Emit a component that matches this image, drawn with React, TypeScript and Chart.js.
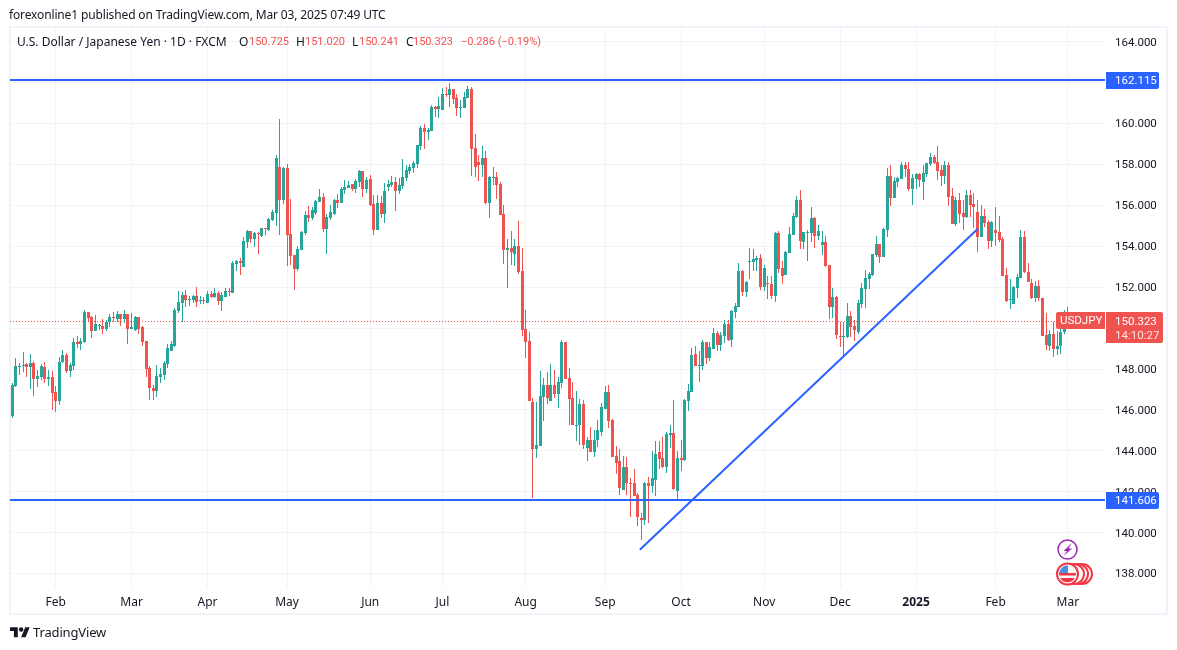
import React, { useEffect, useRef } from "react";
import { Chart, registerables } from "chart.js";

Chart.register(...registerables);

const opens = [
  145.7,147.15,148.12,148.15,148.25,148.08,148.3,147.5,147.62,148.1,
  147.5,147.62,146.9,146.42,148.35,148.7,147.92,148.15,149.33,149.2,
  149.33,150.8,150.55,149.87,150.08,150.12,149.97,150.28,150.55,150.45,
  150.7,150.45,150.7,149.97,149.92,150.55,150.07,149.38,148.07,147.05,
  146.95,147.63,147.72,148.25,148.9,149.13,150.85,151.25,151.63,151.4,
  151.38,151.58,151.35,151.38,151.23,151.68,151.53,151.72,151.33,151.53,
  151.82,151.72,153.14,153.28,153.0,154.2,154.75,154.36,154.65,154.5,
  154.9,154.8,155.28,155.63,157.87,156.26,157.82,154.6,153.58,152.9,
  153.82,154.65,155.53,155.38,155.63,156.17,156.4,154.85,155.38,155.58,
  156.26,156.11,156.75,156.85,157.04,156.8,157.14,157.67,156.8,157.29,
  156.07,154.8,156.11,155.58,156.9,157.0,157.14,156.7,156.94,157.33,
  157.67,157.82,158.02,158.9,159.77,159.58,159.63,160.8,160.7,160.65,
  161.43,161.38,161.67,161.23,160.77,160.75,161.23,161.67,158.8,158.11,
  157.97,158.31,156.11,157.35,157.38,157.04,155.58,153.82,153.92,153.63,
  154.02,152.8,149.97,149.38,146.41,144.11,144.26,146.65,147.23,146.46,
  147.23,146.8,147.33,149.33,147.58,146.6,145.24,145.24,146.31,144.16,
  144.55,143.92,144.55,144.94,146.06,146.9,145.53,143.77,143.48,142.11,
  143.19,142.45,142.41,141.82,140.7,140.6,142.45,142.26,142.6,143.92,
  143.63,143.19,144.77,144.85,142.02,143.67,143.53,146.46,146.9,148.75,
  148.16,148.16,149.33,148.55,149.0,149.77,149.19,149.63,150.2,149.43,
  150.8,151.04,152.8,151.77,153.24,153.24,153.33,153.43,152.02,152.2,
  152.16,151.58,154.65,152.95,152.6,153.67,154.55,155.41,156.26,154.21,
  154.67,154.65,155.38,154.5,154.06,154.2,153.09,151.04,151.53,149.63,
  149.6,149.58,150.6,150.11,149.82,151.19,151.92,152.41,152.6,153.58,
  154.11,153.48,154.8,157.43,156.36,157.14,157.28,157.97,157.77,156.8,
  157.28,157.53,157.14,157.53,158.02,158.36,158.11,157.72,157.43,157.97,
  156.46,155.09,156.26,155.63,155.43,156.5,156.07,155.68,154.46,155.48,
  155.17,154.24,154.78,154.68,154.34,152.59,151.37,151.17,151.95,152.44,
  154.44,152.73,152.19,151.46,152.05,151.46,149.66,149.12,149.71,148.98,
  149.12,149.8,150.725,
];
const highs = [
  147.3,148.55,148.3,148.85,148.3,148.75,148.4,147.97,148.25,148.35,
  147.97,147.92,147.15,148.6,148.95,148.8,148.3,149.52,149.62,149.52,
  150.9,150.8,150.6,150.65,150.2,150.45,150.4,150.7,150.8,150.85,
  150.7,150.9,150.7,150.75,150.6,150.55,150.12,149.38,148.17,147.2,
  148.2,148.07,148.4,149.2,149.38,151.0,151.82,151.78,151.87,151.58,
  151.63,152.02,151.58,151.53,151.82,151.82,151.97,151.82,151.77,151.97,
  151.97,153.28,153.33,153.43,154.46,154.8,154.75,154.7,154.7,154.9,
  154.9,155.38,155.78,158.45,160.2,157.87,158.02,156.3,153.58,154.02,
  154.75,155.72,155.97,155.92,156.27,156.8,156.6,155.58,156.02,156.31,
  156.55,156.9,157.24,157.19,157.04,157.29,157.72,157.67,157.38,157.48,
  156.5,156.5,156.46,157.09,157.24,157.43,157.38,157.33,158.26,157.97,
  158.02,158.16,158.94,159.87,159.97,159.77,160.9,160.85,161.28,161.72,
  161.77,161.97,161.67,161.43,161.14,161.52,161.82,161.77,159.48,158.45,
  158.9,158.65,157.43,157.87,157.63,157.14,156.02,154.36,154.75,154.36,
  155.24,153.92,150.89,149.82,146.6,146.41,147.92,147.58,147.87,148.26,
  147.97,147.63,149.43,149.33,148.07,147.38,146.94,146.55,146.5,144.7,
  145.19,145.04,145.53,146.36,147.19,147.24,145.58,144.26,144.07,143.77,
  143.72,142.65,143.09,141.92,140.94,142.5,142.7,143.97,144.5,144.5,
  144.7,144.9,145.24,146.5,143.97,144.55,146.55,147.28,149.04,149.14,
  148.9,149.43,149.33,149.33,150.0,149.87,149.82,150.4,150.4,150.9,
  151.24,153.19,152.85,152.3,153.92,153.87,153.53,153.63,153.1,152.55,
  152.55,154.7,154.75,153.3,153.77,154.94,155.63,156.46,156.75,154.7,
  154.8,155.92,155.43,155.04,154.75,154.5,153.09,151.97,151.58,150.28,
  150.28,151.24,150.85,150.4,151.38,152.21,152.85,152.75,153.63,154.5,
  154.11,154.9,157.82,157.97,157.38,157.38,158.11,158.11,158.11,157.53,
  157.58,157.58,157.97,158.07,158.55,158.45,158.89,157.97,158.16,158.11,
  156.85,156.41,156.6,156.26,156.75,156.75,156.6,156.26,156.02,155.82,
  155.29,155.22,155.9,155.5,154.44,152.93,152.39,152.05,152.63,154.78,
  154.73,153.17,152.39,152.29,152.34,151.46,150.73,149.9,150.29,149.85,
  150.39,150.9,151.02,
];
const lows = [
  145.6,147.1,147.7,147.85,147.62,147.0,146.7,147.1,147.45,147.3,
  147.15,146.0,145.92,146.25,148.3,147.82,147.62,147.97,149.05,148.95,
  149.28,150.3,149.52,149.87,149.92,149.72,149.87,150.07,150.3,150.3,
  150.12,150.25,149.23,149.97,149.87,149.72,149.13,147.63,146.5,146.5,
  146.65,147.3,147.48,148.07,148.9,149.08,150.75,150.3,151.05,151.08,
  151.23,151.05,151.2,151.2,151.23,151.48,151.48,151.13,150.85,151.53,
  151.58,151.72,152.8,152.6,153.0,153.92,154.16,153.97,153.63,154.45,
  154.55,154.75,155.23,155.0,154.55,156.07,153.04,153.1,151.87,152.8,
  153.82,154.55,155.18,155.28,155.53,156.17,154.7,153.63,155.28,155.53,
  155.87,156.11,156.55,156.85,156.7,156.6,156.9,156.41,156.6,155.97,
  154.55,154.8,155.38,155.14,156.7,156.9,155.72,156.55,156.8,157.19,
  157.53,157.58,157.82,158.7,158.75,159.19,159.63,160.31,160.26,160.65,
  161.28,160.8,160.94,160.36,160.26,160.75,161.23,157.43,157.38,157.19,
  157.38,156.07,155.38,157.0,156.31,155.53,153.14,151.97,153.09,153.04,
  152.65,149.63,148.55,146.46,141.72,143.67,144.26,145.48,146.31,146.46,
  146.6,146.11,147.09,147.53,145.24,145.24,144.5,144.31,144.07,143.48,
  143.92,143.72,144.2,144.75,146.06,145.14,143.72,142.89,141.82,142.11,
  141.82,140.75,141.77,140.31,139.63,140.36,140.46,141.92,141.77,143.09,
  143.14,142.94,144.16,142.11,141.63,143.0,143.48,145.97,146.9,148.16,
  147.38,147.97,148.26,148.4,149.0,148.9,148.9,149.28,149.38,149.09,
  150.5,151.04,151.58,151.53,152.41,152.8,152.8,151.87,151.82,151.43,
  151.43,151.28,152.7,152.16,152.6,153.67,154.55,155.38,153.87,153.87,
  153.28,154.21,153.92,154.3,153.58,153.0,150.46,150.5,149.48,149.09,
  148.65,149.53,149.58,149.38,149.72,150.99,150.99,151.92,152.55,153.48,
  153.19,153.48,154.46,155.97,156.36,156.89,157.28,157.38,156.7,156.02,
  156.8,156.9,156.26,157.38,157.9,158.0,157.24,156.94,157.04,155.97,
  155.09,154.99,155.14,154.8,155.38,155.43,154.9,153.72,154.46,154.94,
  153.85,153.95,154.0,154.2,152.54,151.27,150.93,151.17,151.46,152.44,
  152.68,152.24,151.41,151.27,151.32,149.61,148.93,148.88,148.59,148.68,
  148.73,149.7,150.241,
];
const closes = [
  147.2,148.15,148.15,148.2,148.08,148.3,147.5,147.68,148.15,147.5,
  147.62,146.85,146.42,148.35,148.7,147.92,148.2,149.33,149.23,149.38,
  150.8,150.5,149.87,150.2,150.13,149.97,150.3,150.55,150.5,150.7,
  150.45,150.7,149.97,150.07,150.55,149.97,149.33,148.02,147.05,146.95,
  147.68,147.77,148.3,149.03,149.2,150.9,151.28,151.63,151.38,151.43,
  151.58,151.28,151.38,151.35,151.68,151.53,151.72,151.33,151.63,151.82,
  151.78,153.18,153.28,153.18,154.26,154.75,154.36,154.65,154.6,154.9,
  154.85,155.33,155.68,158.3,156.26,157.82,154.55,153.53,152.9,153.87,
  154.7,155.53,155.38,155.77,156.22,156.4,154.85,155.43,155.67,156.26,
  156.11,156.8,156.9,157.0,156.8,157.19,157.67,156.8,157.24,156.02,
  154.8,156.11,155.58,156.7,157.04,157.14,156.7,157.0,157.38,157.72,
  157.87,158.07,158.94,159.77,159.58,159.67,160.8,160.7,160.85,161.43,
  161.38,161.67,161.18,160.75,160.8,161.28,161.67,158.75,157.87,157.97,
  158.31,156.11,157.38,157.38,157.0,155.53,153.82,153.92,153.72,154.02,
  152.75,149.92,149.33,146.46,144.11,144.31,146.7,147.23,146.6,147.23,
  146.8,147.38,149.33,147.53,146.55,145.24,145.28,146.31,144.31,144.55,
  143.92,144.55,145.0,146.16,146.9,145.48,143.72,143.43,142.2,143.19,
  142.41,142.36,141.77,140.75,140.6,142.45,142.26,142.65,143.87,143.58,
  143.19,144.8,144.85,142.16,143.67,143.53,146.5,146.94,148.7,148.16,
  148.2,149.33,148.55,149.09,149.77,149.19,149.67,150.2,149.43,150.85,
  151.09,152.8,151.77,152.26,153.28,153.38,153.43,152.02,152.95,152.16,
  151.58,154.65,152.9,152.55,153.72,154.6,155.48,156.26,154.26,154.7,
  154.7,155.38,154.5,154.75,154.2,153.04,151.04,151.53,149.67,149.6,
  149.63,150.6,150.07,149.92,151.24,151.97,152.45,152.65,153.63,154.11,
  153.48,154.85,157.43,156.36,157.19,157.33,157.97,157.77,156.8,157.33,
  157.53,157.24,157.58,158.07,158.36,158.07,157.68,157.43,157.97,156.41,
  155.09,156.26,155.58,155.43,156.5,156.02,155.92,154.46,155.48,155.14,
  154.24,155.17,154.63,154.3,152.54,151.32,151.41,152.0,152.49,154.44,
  152.73,152.24,151.46,152.05,151.46,149.61,149.17,149.71,148.98,149.12,
  149.8,150.7,150.323,
];

const monthLabels = ["Feb", "Mar", "Apr", "May", "Jun", "Jul", "Aug", "Sep", "Oct", "Nov", "Dec", "2025", "Feb", "Mar"];
const monthBars = [12, 33, 54, 76, 99, 119, 142, 164, 185, 208, 229, 250, 272, 292];
const priceTicks = [138, 140, 142, 144, 146, 148, 150, 152, 154, 156, 158, 160, 162, 164];

const resistance = 162.115;
const support = 141.606;
const lastPrice = 150.323;
const trendBars = [173.6, 267.1];
const trendPrices = [139.17, 154.86];

const legendValues = [
  { key: "O", value: "150.725", keyX: 239, valueX: 249 },
  { key: "H", value: "151.020", keyX: 296, valueX: 305 },
  { key: "L", value: "150.241", keyX: 352, valueX: 359 },
  { key: "C", value: "150.323", keyX: 406, valueX: 413 },
];

const GREEN = "#26a69a";
const RED = "#ef5350";
const BLUE = "#2962ff";
const INK = "#131722";
const GRID = "#f0f3fa";
const FONT = "'Noto Sans', sans-serif";
const NUM_FONT = "Roboto, sans-serif";

const xMin = -0.636;
const xMax = 302.27;
const candleColors = closes.map((c, i) => (c >= opens[i] ? GREEN : RED));

// keep wicks, bodies and level lines on whole pixels, like the original
const snapMarks = {
  id: "snapMarks",
  afterDatasetsUpdate(chart: any) {
    chart.data.datasets.forEach((ds: any, d: number) => {
      const marks = chart.getDatasetMeta(d).data;
      if (ds.type === "line") {
        if (ds.data[0].y !== ds.data[1].y) return;
        marks.forEach((el: any) => {
          el.y = ds.borderWidth % 2 ? Math.floor(el.y) + 0.5 : Math.round(el.y);
        });
        return;
      }
      marks.forEach((el: any) => {
        el.x = Math.floor(el.x) + 0.5;
        const top = Math.round(Math.min(el.y, el.base));
        let bottom = Math.round(Math.max(el.y, el.base));
        if (bottom <= top) bottom = top + 1;
        el.y = top;
        el.base = bottom;
        el.height = bottom - top;
      });
    });
  },
};

function tag(ctx: any, x: number, y: number, w: number, h: number, color: string, r: any) {
  ctx.fillStyle = color;
  ctx.beginPath();
  ctx.roundRect(x, y, w, h, r);
  ctx.fill();
}

// frame, price tags and the event icons sit on top of the scales
const overlays = {
  id: "overlays",
  beforeDraw(chart: any) {
    const { ctx } = chart;
    ctx.save();
    ctx.strokeStyle = GRID;
    ctx.lineWidth = 2;
    ctx.strokeRect(10, 27, 1157, 587);
    ctx.restore();
  },
  afterDraw(chart: any) {
    const { ctx } = chart;
    const y = chart.scales.y;
    ctx.save();
    ctx.textBaseline = "middle";
    ctx.textAlign = "left";
    ctx.font = `11.5px ${NUM_FONT}`;

    [resistance, support].forEach((p) => {
      const py = Math.round(y.getPixelForValue(p));
      tag(ctx, 1106, py - 8, 53, 17, BLUE, [0, 2, 2, 0]);
      ctx.fillStyle = "#fff";
      ctx.fillText(p.toFixed(3), 1115, py + 1);
    });

    const py = Math.round(y.getPixelForValue(lastPrice));
    tag(ctx, 1056, py - 9, 49, 17, RED, [2, 0, 0, 2]);
    tag(ctx, 1106, py - 9, 57, 31, RED, [0, 2, 2, 0]);
    ctx.fillStyle = "#fff";
    ctx.fillText("USDJPY", 1060, py);
    ctx.fillText(lastPrice.toFixed(3), 1115, py + 1);
    ctx.fillStyle = "#ffe3e2";
    ctx.fillText("14:10:27", 1115, py + 15);

    // lightning marker
    ctx.strokeStyle = "#9c27b0";
    ctx.fillStyle = "#fff";
    ctx.lineWidth = 1.5;
    ctx.beginPath();
    ctx.arc(1067.5, 549.5, 9.5, 0, Math.PI * 2);
    ctx.fill();
    ctx.stroke();
    ctx.fillStyle = "#9c27b0";
    ctx.beginPath();
    [[1072, 543], [1063.5, 551], [1067, 551], [1063.5, 556], [1072, 548.5], [1068.5, 548.5]].forEach(([a, b], i) => {
      if (i === 0) ctx.moveTo(a, b);
      else ctx.lineTo(a, b);
    });
    ctx.closePath();
    ctx.fill();

    // stacked US calendar markers
    [1082, 1078, 1074].forEach((cx) => {
      ctx.fillStyle = "#fff";
      ctx.strokeStyle = "#f23645";
      ctx.lineWidth = 2;
      ctx.beginPath();
      ctx.arc(cx, 574, 10, 0, Math.PI * 2);
      ctx.fill();
      ctx.stroke();
    });
    ctx.fillStyle = "#fff";
    ctx.beginPath();
    ctx.arc(1067.5, 574, 10.5, 0, Math.PI * 2);
    ctx.fill();
    ctx.stroke();
    ctx.save();
    ctx.beginPath();
    ctx.arc(1067.5, 574, 8.5, 0, Math.PI * 2);
    ctx.clip();
    ctx.fillStyle = "#f7f7f7";
    ctx.fillRect(1058, 565, 19, 18);
    ctx.fillStyle = "#f23645";
    ctx.fillRect(1058, 573, 19, 2.5);
    ctx.fillRect(1058, 578, 19, 5);
    ctx.fillStyle = "#4a90e2";
    ctx.fillRect(1058, 565, 10, 8);
    ctx.restore();
    ctx.restore();
  },
};

const App: React.FC = () => {
  const canvasRef = useRef<HTMLCanvasElement>(null);

  useEffect(() => {
    const ctx = canvasRef.current?.getContext("2d");
    if (!ctx) return;

    const hLine = (p: number) => [{ x: xMin, y: p }, { x: xMax, y: p }];
    const lineBase = { type: "line", pointRadius: 0, fill: false, order: 0 };

    const chart = new Chart(ctx, {
      type: "bar",
      data: {
        datasets: [
          { ...lineBase, data: hLine(resistance), borderColor: BLUE, borderWidth: 2 },
          { ...lineBase, data: hLine(support), borderColor: BLUE, borderWidth: 2 },
          {
            ...lineBase,
            data: trendBars.map((x, i) => ({ x, y: trendPrices[i] })),
            borderColor: BLUE,
            borderWidth: 2,
          },
          {
            ...lineBase,
            data: hLine(lastPrice),
            borderColor: RED,
            borderWidth: 1,
            borderDash: [1, 2],
            order: 3,
          },
          {
            type: "bar",
            data: opens.map((o, i) => ({ x: i, y: [o, closes[i]] })),
            backgroundColor: candleColors,
            barThickness: 3,
            grouped: false,
            inflateAmount: 0,
            order: 1,
          },
          {
            type: "bar",
            data: lows.map((l, i) => ({ x: i, y: [l, highs[i]] })),
            backgroundColor: candleColors,
            barThickness: 1,
            grouped: false,
            inflateAmount: 0,
            order: 2,
          },
        ] as any,
      },
      options: {
        responsive: false,
        animation: false,
        devicePixelRatio: 1,
        layout: { padding: { left: 10, top: 27, right: 10, bottom: 36 } },
        plugins: { legend: { display: false }, tooltip: { enabled: false } },
        scales: {
          x: {
            type: "linear",
            min: xMin,
            max: xMax,
            offset: false,
            border: { display: false },
            grid: { color: GRID, offset: false, drawTicks: false },
            afterBuildTicks: (scale: any) => {
              scale.ticks = monthBars.map((value) => ({ value }));
            },
            afterFit: (scale: any) => {
              scale.height = 26;
            },
            ticks: {
              autoSkip: false,
              maxRotation: 0,
              padding: 7,
              color: INK,
              font: (c: any) => ({
                family: FONT,
                size: 12,
                weight: c.tick?.value === 250 ? "bold" : "normal",
              }),
              callback: (v: any) => monthLabels[monthBars.indexOf(v)],
            },
          },
          y: {
            position: "right",
            min: 137.297,
            max: 164.7165,
            border: { display: false },
            grid: { color: GRID, drawTicks: false },
            afterBuildTicks: (scale: any) => {
              scale.ticks = priceTicks.map((value) => ({ value }));
            },
            afterFit: (scale: any) => {
              scale.width = 62;
            },
            ticks: {
              padding: 10,
              labelOffset: 1,
              color: INK,
              font: { family: NUM_FONT, size: 11.5 },
              callback: (v: any) => Number(v).toFixed(3),
            },
          },
        },
      } as any,
      plugins: [snapMarks, overlays],
    });

    return () => chart.destroy();
  }, []);

  const textAt = (left: number, top: number, color = INK, size = 12): React.CSSProperties => ({
    position: "absolute",
    left,
    top,
    color,
    fontSize: size,
    lineHeight: "16px",
    whiteSpace: "nowrap",
  });

  return (
    <div
      style={{
        position: "fixed",
        left: 0,
        top: 0,
        width: 1177,
        height: 650,
        background: "#fff",
        overflow: "hidden",
        fontFamily: FONT,
      }}
    >
      <canvas ref={canvasRef} width={1177} height={650} style={{ display: "block" }} />
      <div style={{ ...textAt(9, 7), letterSpacing: "-0.14px" }}>
        forexonline1 published on TradingView.com, Mar 03, 2025 07:49 UTC
      </div>
      <div style={textAt(17, 34)}>U.S. Dollar / Japanese Yen · 1D · FXCM</div>
      {legendValues.map((item) => (
        <React.Fragment key={item.key}>
          <div style={textAt(item.keyX, 34)}>{item.key}</div>
          <div style={{ ...textAt(item.valueX, 34, RED, 11), fontFamily: NUM_FONT }}>{item.value}</div>
        </React.Fragment>
      ))}
      <div style={{ ...textAt(461, 34, RED, 11), fontFamily: NUM_FONT }}>−0.286 (−0.19%)</div>
      <svg
        width="20"
        height="15.5"
        viewBox="0 0 36 28"
        style={{ position: "absolute", left: 10, top: 625 }}
      >
        <path d="M14 22H7V11H0V4h14v18zM28 22h-8l7.5-18h8L28 22z" fill={INK} />
        <circle cx="20" cy="8" r="4" fill={INK} />
      </svg>
      <div style={{ ...textAt(33, 624, INK, 13), letterSpacing: "-0.15px" }}>TradingView</div>
    </div>
  );
};

export default App;
